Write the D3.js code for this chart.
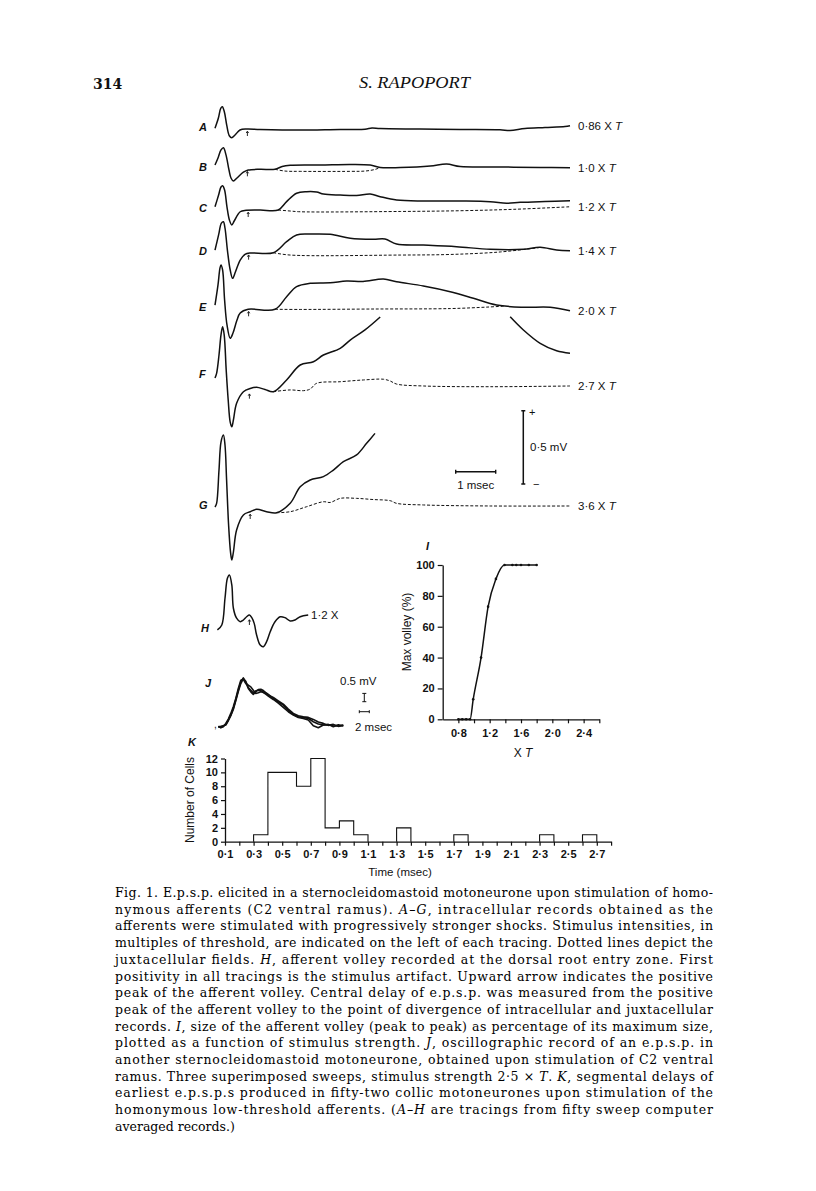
<!DOCTYPE html>
<html>
<head>
<meta charset="utf-8">
<script src="https://cdn.jsdelivr.net/npm/d3@7"></script>
<style>
  body { margin: 0; background: #fff; }
  svg { display: block; }
</style>
</head>
<body>
<svg id="fig" width="816" height="1191"></svg>
<script>
// ---- A-G intracellular (solid) and juxtacellular (dashed) records: [time ms, mV above baseline]
const traceA = [[0,0.005],[0.083,0.073],[0.143,0.141],[0.183,0.152],[0.233,0.118],[0.293,0.027],[0.358,-0.046],[0.418,-0.059],[0.5,-0.041],[0.625,-0.007],[0.793,0],[1.125,-0.003],[2.125,-0.007],[3.125,-0.003],[3.75,-0.002],[3.925,0.007],[4.125,0.003],[5.125,0],[6.125,-0.003],[7.125,-0.005],[7.375,-0.010],[7.75,0.003],[8.25,0.010],[8.75,0.017],[8.875,0.022]];
const traceB = [[0,0.029],[0.075,0.077],[0.15,0.132],[0.21,0.147],[0.275,0.098],[0.35,-0.005],[0.4,-0.059],[0.46,-0.080],[0.55,-0.059],[0.71,-0.020],[0.83,-0.005],[1.13,0],[1.5,0],[1.68,0.019],[1.88,0.027],[2.63,0.029],[3.38,0.033],[3.88,0.029],[4.13,0.012],[4.63,0.012],[5.38,0.022],[5.79,0.036],[6.13,0.019],[7.13,0.016],[8.13,0.012],[8.875,0.011]];
const juxtaB = [[1.5,0],[1.75,-0.012],[2.13,-0.014],[3.38,-0.014],[3.75,-0.012],[4.0,-0.001],[4.13,0.012]];
const traceC = [[0,0.022],[0.09,0.102],[0.15,0.157],[0.19,0.166],[0.24,0.136],[0.3,0.020],[0.36,-0.068],[0.42,-0.102],[0.48,-0.075],[0.63,-0.012],[0.78,-0.002],[1.13,0],[1.58,0],[1.79,0.057],[2.04,0.114],[2.29,0.125],[2.54,0.123],[2.71,0.109],[3.13,0.102],[3.54,0.099],[3.88,0.109],[4.13,0.091],[4.54,0.068],[5.21,0.061],[6.13,0.061],[6.88,0.057],[7.29,0.046],[7.63,0.052],[8.25,0.058],[8.875,0.063]];
const juxtaC = [[1.58,0],[1.88,-0.007],[2.13,-0.012],[4.63,-0.010],[6.13,-0.005],[7.5,0.005],[8.875,0.022]];
const traceD = [[0,0.018],[0.09,0.121],[0.16,0.202],[0.21,0.211],[0.25,0.168],[0.31,0.018],[0.38,-0.118],[0.44,-0.175],[0.51,-0.132],[0.63,-0.050],[0.75,-0.012],[0.88,-0.002],[1.46,0],[1.79,0.075],[2.04,0.121],[2.38,0.127],[2.88,0.125],[3.38,0.098],[3.96,0.091],[4.25,0.093],[4.54,0.059],[5.21,0.052],[6.04,0.041],[6.88,0.023],[7.71,0.023],[8.13,0.037],[8.54,0.018],[8.875,0.014]];
const juxtaD = [[1.46,0],[1.88,-0.016],[4.63,-0.016],[5.88,-0.012],[7.13,0.005],[8.1,0.035]];
const traceE = [[0,0.029],[0.075,0.166],[0.125,0.282],[0.15,0.302],[0.19,0.268],[0.24,0.063],[0.3,-0.107],[0.38,-0.198],[0.45,-0.162],[0.55,-0.073],[0.63,-0.025],[0.83,0],[1.5,0],[1.79,0.086],[2.04,0.154],[2.38,0.177],[2.88,0.181],[3.29,0.193],[3.7,0.190],[4.21,0.207],[4.54,0.188],[5.21,0.159],[5.88,0.120],[6.46,0.075],[7.04,0.029],[7.71,0.014],[8.38,0.014],[8.875,-0.010]];
const juxtaE = [[1.5,0],[2.13,-0.001],[4.0,0.002],[5.88,0.005],[6.8,0.015],[7.25,0.022]];
// F goes off screen between the two pieces (null = gap)
const traceF = [[0,0.093],[0.04,0.125],[0.1,0.250],[0.15,0.387],[0.19,0.443],[0.23,0.387],[0.28,0.148],[0.33,-0.057],[0.38,-0.207],[0.42,-0.239],[0.46,-0.193],[0.54,-0.079],[0.71,0],[0.88,0.022],[1.04,0.030],[1.25,0.015],[1.46,0],[1.79,0.080],[2.13,0.182],[2.46,0.204],[2.71,0.250],[3.13,0.296],[3.38,0.352],[3.75,0.421],[4.13,0.509],[5.5,null],[7.38,0.511],[7.71,0.421],[8.13,0.330],[8.54,0.279],[8.875,0.262]];
const juxtaF = [[1.46,0],[1.88,0.012],[2.21,0.007],[2.38,0.018],[2.54,0.057],[3.13,0.068],[3.71,0.080],[4.21,0.085],[4.38,0.073],[4.54,0.052],[5.21,0.039],[6.88,0.034],[8.875,0.039]];
const traceG = [[0,0.034],[0.04,0.059],[0.1,0.286],[0.15,0.477],[0.21,0.525],[0.25,0.457],[0.29,0.218],[0.34,-0.089],[0.39,-0.279],[0.42,-0.327],[0.46,-0.273],[0.54,-0.123],[0.71,-0.020],[0.88,0.002],[1.04,0.018],[1.29,0.002],[1.54,-0.005],[1.88,0.059],[2.13,0.172],[2.38,0.218],[2.71,0.241],[2.96,0.286],[3.21,0.343],[3.54,0.389],[3.79,0.468],[4.0,0.536]];
const juxtaG = [[1.54,-0.005],[1.88,0.002],[2.29,0.036],[2.71,0.070],[2.88,0.065],[3.13,0.093],[3.54,0.093],[3.95,0.085],[4.38,0.077],[4.54,0.059],[5.21,0.048],[6.88,0.041],[8.875,0.041]];
const traceNames = ["A","B","C","D","E","F","G"];
const strengths = ["0·86","1·0","1·2","1·4","2·0","2·7","3·6"];
const arrowT = [0.81,0.81,0.83,0.84,0.84,0.86,0.88];

// ---- H afferent volley
const traceH = [[0.06,-0.102],[0.17,-0.068],[0.25,0.114],[0.31,0.250],[0.36,0.273],[0.42,0.205],[0.46,0.046],[0.54,-0.022],[0.63,-0.046],[0.71,-0.034],[0.79,-0.012],[0.86,0],[0.92,-0.018],[0.98,-0.057],[1.04,-0.136],[1.13,-0.205],[1.21,-0.216],[1.29,-0.182],[1.38,-0.114],[1.5,-0.046],[1.63,-0.012],[1.75,-0.018],[1.88,-0.041],[2.0,-0.034],[2.13,-0.012],[2.33,0]];

// ---- I volley size vs stimulus strength
const stimStrength = [0.80,0.85,0.90,0.95,0.99,1.09,1.18,1.28,1.39,1.49,1.54,1.60,1.70,1.80];
const volleySize = [0,0,0,0,13,40,73,91,100,100,100,100,100,100];

// ---- J three superimposed sweeps (ms, mV)
const jTime = [0,0.5,1,1.5,2,2.5,3,3.5,4,4.5,5,5.5,6,6.5,7,7.5,8,8.5,9,9.5,10,11,12,13,14,15,16,17,18,19,20,21,22,23,24,25];
const jSweep1 = [-0.02,-0.04,0.04,0.14,0.40,0.70,1.10,1.64,2.20,2.70,2.94,2.66,2.30,2.10,1.94,2.10,2.24,2.26,2.18,2.06,1.94,1.70,1.50,1.30,0.98,0.74,0.60,0.56,0.50,0.30,0.16,0.10,0.12,0.06,0.04,0.10];
const jSweep2 = [0.02,-0.06,0.00,0.20,0.46,0.80,1.20,1.70,2.30,2.80,2.86,2.60,2.50,2.40,2.20,2.00,2.04,2.10,2.06,1.96,1.84,1.64,1.42,1.16,0.90,0.70,0.56,0.50,0.40,0.06,-0.06,0.10,0.14,0.00,0.12,0.04];
const jSweep3 = [0.00,0.02,0.06,0.10,0.36,0.66,1.04,1.56,2.12,2.60,2.90,2.74,2.36,2.20,2.04,2.16,2.20,2.16,2.10,2.00,1.90,1.76,1.56,1.36,1.06,0.80,0.66,0.60,0.56,0.44,0.28,0.20,0.08,0.14,0.02,0.08];

// ---- K histogram of segmental delays
const binStart = [0.3,0.4,0.5,0.6,0.7,0.8,0.9,1.0,1.3,1.7,2.3,2.6];
const cellCounts = [1,10,10,8,12,2,3,1,2,1,1,1];

const captionLines = [
  "Fig. 1. E.p.s.p. elicited in a sternocleidomastoid motoneurone upon stimulation of homo-",
  "nymous afferents (C2 ventral ramus). _A–G_, intracellular records obtained as the",
  "afferents were stimulated with progressively stronger shocks. Stimulus intensities, in",
  "multiples of threshold, are indicated on the left of each tracing. Dotted lines depict the",
  "juxtacellular fields. _H_, afferent volley recorded at the dorsal root entry zone. First",
  "positivity in all tracings is the stimulus artifact. Upward arrow indicates the positive",
  "peak of the afferent volley. Central delay of e.p.s.p. was measured from the positive",
  "peak of the afferent volley to the point of divergence of intracellular and juxtacellular",
  "records. _I_, size of the afferent volley (peak to peak) as percentage of its maximum size,",
  "plotted as a function of stimulus strength. _J_, oscillographic record of an e.p.s.p. in",
  "another sternocleidomastoid motoneurone, obtained upon stimulation of C2 ventral",
  "ramus. Three superimposed sweeps, stimulus strength 2·5 × _T_. _K_, segmental delays of",
  "earliest e.p.s.p.s produced in fifty-two collic motoneurones upon stimulation of the",
  "homonymous low-threshold afferents. (_A–H_ are tracings from fifty sweep computer",
  "averaged records.)"
];

const ink = "#111";
const sans = "'Liberation Sans', Arial, sans-serif";
const serif = "'DejaVu Serif', serif";
const svg = d3.select("#fig");
const dot = d => d3.format(".1f")(d).replace(".", "·");

// header
svg.append("text").attr("x", 93).attr("y", 89).attr("font-family", serif).attr("font-weight", "bold")
  .attr("font-size", 14).attr("fill", ink).text("314");
svg.append("text").attr("x", 359).attr("y", 88).attr("font-family", "'Liberation Serif', serif").attr("font-style", "italic")
  .attr("font-size", 17).attr("fill", ink).attr("textLength", 111).attr("lengthAdjust", "spacingAndGlyphs").text("S. RAPOPORT");

// ---- A-G
const tx = d3.scaleLinear().domain([0, 8.875]).range([215, 570]);
const tv = d3.scaleLinear().domain([0, 1]).range([0, -146.7]);
const traceBase = [129, 169.3, 210, 252.7, 309.3, 391.7, 512];
const intra = [traceA, traceB, traceC, traceD, traceE, traceF, traceG];
const juxta = [null, juxtaB, juxtaC, juxtaD, juxtaE, juxtaF, juxtaG];
const traceLine = d3.line().defined(d => d[1] !== null)
  .x(d => tx(d[0])).y(d => tv(d[1])).curve(d3.curveCatmullRom.alpha(0.5));

traceNames.forEach((name, i) => {
  const g = svg.append("g").attr("transform", `translate(0,${traceBase[i]})`);
  if (juxta[i]) {
    g.append("path").attr("d", traceLine(juxta[i])).attr("fill", "none").attr("stroke", ink)
      .attr("stroke-width", 1).attr("stroke-dasharray", "3,1.8");
  }
  g.append("path").attr("d", traceLine(intra[i])).attr("fill", "none").attr("stroke", ink).attr("stroke-width", 1.5);
  // upward arrow
  const ax = tx(arrowT[i]);
  g.append("path").attr("d", `M${ax},7 L${ax},2.5 M${ax - 1.2},4 L${ax},2.2 L${ax + 1.2},4`)
    .attr("fill", "none").attr("stroke", ink).attr("stroke-width", 0.9);
  g.append("text").attr("x", 199).attr("y", i < 5 ? -1 : -6).attr("dy", i === 5 ? -8 : 3)
    .attr("font-family", sans).attr("font-style", "italic").attr("font-weight", "bold")
    .attr("font-size", 11).attr("fill", ink).text(name);
  // label at the level of the lowest series reaching the end
  const ends = [intra[i], juxta[i]].filter(s => s && s[s.length - 1][0] > 8.8).map(s => s[s.length - 1][1]);
  const lab = g.append("text").attr("x", 578).attr("y", tv(d3.min(ends)) + 4)
    .attr("font-family", sans).attr("font-size", 11.5).attr("fill", ink);
  lab.append("tspan").text(strengths[i] + " X ");
  lab.append("tspan").attr("font-style", "italic").text("T");
});

// calibration bars
const calX = 523.3, calTop = 410.7;
const calLen = tv(0) - tv(0.5);
svg.append("path").attr("d", `M${calX},${calTop} V${calTop + calLen} M${calX - 2},${calTop} H${calX + 2} M${calX - 2},${calTop + calLen} H${calX + 2}`)
  .attr("stroke", ink).attr("stroke-width", 1.5).attr("fill", "none");
svg.append("text").attr("x", 529).attr("y", 416).attr("font-family", sans).attr("font-size", 11).attr("fill", ink).text("+");
svg.append("text").attr("x", 533).attr("y", 488).attr("font-family", sans).attr("font-size", 11).attr("fill", ink).text("−");
svg.append("text").attr("x", 530).attr("y", 451).attr("font-family", sans).attr("font-size", 11.5).attr("fill", ink).text("0·5 mV");
const msX = 455.7, msY = 471.7, msLen = tx(1) - tx(0);
svg.append("path").attr("d", `M${msX},${msY} H${msX + msLen} M${msX},${msY - 2} V${msY + 2} M${msX + msLen},${msY - 2} V${msY + 2}`)
  .attr("stroke", ink).attr("stroke-width", 1.4).attr("fill", "none");
svg.append("text").attr("x", msX + msLen / 2).attr("y", 489).attr("text-anchor", "middle")
  .attr("font-family", sans).attr("font-size", 11.5).attr("fill", ink).text("1 msec");

// ---- H
const gH = svg.append("g").attr("transform", "translate(0,615)");
gH.append("path").attr("d", traceLine(traceH)).attr("fill", "none").attr("stroke", ink).attr("stroke-width", 1.5);
const hx = tx(0.86);
gH.append("path").attr("d", `M${hx},10 L${hx},5 M${hx - 1.2},6.5 L${hx},4.7 L${hx + 1.2},6.5`)
  .attr("fill", "none").attr("stroke", ink).attr("stroke-width", 0.9);
svg.append("text").attr("x", 201).attr("y", 632).attr("font-family", sans).attr("font-style", "italic")
  .attr("font-weight", "bold").attr("font-size", 11).attr("fill", ink).text("H");
svg.append("text").attr("x", 311).attr("y", 619).attr("font-family", sans).attr("font-size", 11.5).attr("fill", ink).text("1·2 X");

// ---- I
const ix = d3.scaleLinear().domain([0.6, 2.6]).range([442.7, 599.3]);
const iy = d3.scaleLinear().domain([0, 100]).range([719.3, 565]);
const gI = svg.append("g");
gI.append("g").attr("transform", "translate(0,719.3)")
  .call(d3.axisBottom(ix).tickValues([0.8,1.0,1.2,1.4,1.6,1.8,2.0,2.2,2.4,2.6]).tickSize(4).tickSizeOuter(0).tickPadding(6)
    .tickFormat(d => [0.8,1.2,1.6,2.0,2.4].some(v => Math.abs(v - d) < 1e-6) ? dot(d) : ""));
gI.append("g").attr("transform", "translate(442.7,0)")
  .call(d3.axisLeft(iy).tickValues([0,20,40,60,80,100]).tickSize(5).tickSizeOuter(0).tickPadding(3));
const volleyPts = stimStrength.map((s, k) => [s, volleySize[k]]);
gI.append("path").attr("d", d3.line().x(d => ix(d[0])).y(d => iy(d[1])).curve(d3.curveMonotoneX)(volleyPts))
  .attr("fill", "none").attr("stroke", ink).attr("stroke-width", 1.5);
gI.selectAll("circle").data(volleyPts).enter().append("circle")
  .attr("cx", d => ix(d[0])).attr("cy", d => iy(d[1])).attr("r", 1.3).attr("fill", ink);
gI.append("text").attr("transform", "translate(411,632) rotate(-90)").attr("text-anchor", "middle")
  .attr("font-family", sans).attr("font-size", 12).attr("fill", ink).text("Max volley (%)");
gI.append("text").attr("x", 426).attr("y", 550).attr("font-family", sans).attr("font-style", "italic")
  .attr("font-weight", "bold").attr("font-size", 11).attr("fill", ink).text("I");
const xt = gI.append("text").attr("x", 523).attr("y", 757).attr("text-anchor", "middle")
  .attr("font-family", sans).attr("font-size", 12).attr("fill", ink);
xt.append("tspan").text("X ");
xt.append("tspan").attr("font-style", "italic").text("T");

// ---- J
const jx = d3.scaleLinear().domain([0, 25]).range([218.3, 343.3]);
const jy = d3.scaleLinear().domain([0, 3]).range([726.7, 676.9]);
const jLine = d3.line().x((d, k) => jx(jTime[k])).y(d => jy(d)).curve(d3.curveLinear);
[jSweep1, jSweep2, jSweep3].forEach(s => {
  svg.append("path").attr("d", jLine(s)).attr("fill", "none").attr("stroke", ink)
    .attr("stroke-width", 1.6).attr("stroke-linejoin", "round");
});
svg.append("text").attr("x", 214).attr("y", 728).attr("font-family", sans).attr("font-size", 10).attr("fill", ink).text(",");
svg.append("text").attr("x", 205).attr("y", 687).attr("font-family", sans).attr("font-style", "italic")
  .attr("font-weight", "bold").attr("font-size", 11).attr("fill", ink).text("J");
const jvx = 364.3, jvTop = 693.4, jvLen = jy(0) - jy(0.5);
svg.append("path").attr("d", `M${jvx},${jvTop} V${jvTop + jvLen} M${jvx - 2},${jvTop} H${jvx + 2} M${jvx - 2},${jvTop + jvLen} H${jvx + 2}`)
  .attr("stroke", ink).attr("stroke-width", 1).attr("fill", "none");
const jhx = 359.3, jhy = 711.7, jhLen = jx(2) - jx(0);
svg.append("path").attr("d", `M${jhx},${jhy} H${jhx + jhLen} M${jhx},${jhy - 1.5} V${jhy + 1.5} M${jhx + jhLen},${jhy - 1.5} V${jhy + 1.5}`)
  .attr("stroke", ink).attr("stroke-width", 1).attr("fill", "none");
svg.append("text").attr("x", 340).attr("y", 685).attr("font-family", sans).attr("font-size", 11.5).attr("fill", ink).text("0.5 mV");
svg.append("text").attr("x", 355).attr("y", 731).attr("font-family", sans).attr("font-size", 11.5).attr("fill", ink).text("2 msec");

// ---- K
const kx = d3.scaleLinear().domain([0.1, 2.8]).range([225, 611.1]);
const ky = d3.scaleLinear().domain([0, 12]).range([841.7, 758.5]);
const gK = svg.append("g");
// step outline: group consecutive bins into runs
const runs = [];
binStart.forEach((b, k) => {
  const last = runs[runs.length - 1];
  if (last && Math.abs(last[last.length - 1].b + 0.1 - b) < 1e-6) last.push({ b, n: cellCounts[k] });
  else runs.push([{ b, n: cellCounts[k] }]);
});
runs.forEach(run => {
  let d = `M${kx(run[0].b)},${ky(0)}`;
  run.forEach(r => { d += ` V${ky(r.n)} H${kx(r.b + 0.1)}`; });
  d += ` V${ky(0)}`;
  gK.append("path").attr("d", d).attr("fill", "none").attr("stroke", ink).attr("stroke-width", 1.1);
});
const kTicks = d3.range(1, 29).map(k => k / 10);
gK.append("g").attr("transform", "translate(0,841.7)")
  .call(d3.axisBottom(kx).tickValues(kTicks).tickSize(4).tickSizeOuter(0).tickPadding(5)
    .tickFormat(d => (Math.round(d * 10) % 2 === 1 && d < 2.75) ? dot(d) : ""));
gK.append("g").attr("transform", "translate(225,0)")
  .call(d3.axisLeft(ky).tickValues([0,2,4,6,8,10,12]).tickSize(4).tickSizeOuter(0).tickPadding(3));
gK.append("text").attr("transform", "translate(194,800) rotate(-90)").attr("text-anchor", "middle")
  .attr("font-family", sans).attr("font-size", 12).attr("fill", ink).text("Number of Cells");
gK.append("text").attr("x", 400).attr("y", 876).attr("text-anchor", "middle")
  .attr("font-family", sans).attr("font-size", 11.5).attr("fill", ink).text("Time (msec)");
gK.append("text").attr("x", 188).attr("y", 746).attr("font-family", sans).attr("font-style", "italic")
  .attr("font-weight", "bold").attr("font-size", 11).attr("fill", ink).text("K");

// axis styling
svg.selectAll(".domain").attr("stroke", ink).attr("stroke-width", 1.3);
svg.selectAll(".tick line").attr("stroke", ink).attr("stroke-width", 1.2);
svg.selectAll(".tick text").attr("font-family", sans).attr("font-size", 11).attr("font-weight", "bold").attr("fill", ink);

// ---- caption
captionLines.forEach((line, k) => {
  const t = svg.append("text").attr("x", 115).attr("y", 897 + k * 16.7)
    .attr("font-family", serif).attr("font-size", 12.5).attr("fill", "#000");
  if (k < captionLines.length - 1) t.attr("textLength", 598).attr("lengthAdjust", "spacing");
  line.split("_").forEach((part, p) => {
    if (part) t.append("tspan").attr("font-style", p % 2 ? "italic" : null).text(part);
  });
});
</script>
</body>
</html>
